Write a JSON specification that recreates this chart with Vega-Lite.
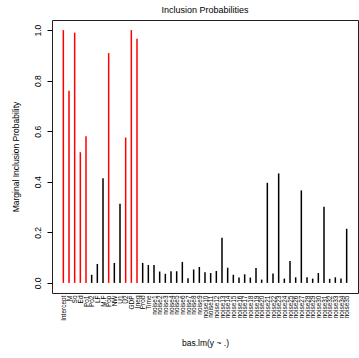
{
  "$schema": "https://vega.github.io/schema/vega-lite/v6.json",
  "width": 306,
  "height": 273,
  "autosize": {"type": "none"},
  "padding": {"left": 52, "top": 20, "right": 1, "bottom": 65},
  "background": "white",
  "config": {
    "view": {"stroke": "#222", "strokeWidth": 1},
    "font": "Liberation Sans"
  },
  "title": {
    "text": "Inclusion Probabilities",
    "fontSize": 9,
    "fontWeight": "normal",
    "font": "Liberation Sans",
    "color": "#000",
    "anchor": "middle",
    "offset": 5
  },
  "data": {
    "values": [
      {"idx": 1, "name": "Intercept", "prob": 1.0},
      {"idx": 2, "name": "M", "prob": 0.76},
      {"idx": 3, "name": "So", "prob": 0.99},
      {"idx": 4, "name": "Ed", "prob": 0.517},
      {"idx": 5, "name": "Po1", "prob": 0.58},
      {"idx": 6, "name": "Po2", "prob": 0.032},
      {"idx": 7, "name": "LF", "prob": 0.075},
      {"idx": 8, "name": "M.F", "prob": 0.414},
      {"idx": 9, "name": "Pop", "prob": 0.909},
      {"idx": 10, "name": "NW", "prob": 0.079},
      {"idx": 11, "name": "U1", "prob": 0.313},
      {"idx": 12, "name": "U2", "prob": 0.575},
      {"idx": 13, "name": "GDP", "prob": 1.0},
      {"idx": 14, "name": "Ineq", "prob": 0.966},
      {"idx": 15, "name": "Prob", "prob": 0.079},
      {"idx": 16, "name": "Time", "prob": 0.071},
      {"idx": 17, "name": "noise1", "prob": 0.071},
      {"idx": 18, "name": "noise2", "prob": 0.045},
      {"idx": 19, "name": "noise3", "prob": 0.036},
      {"idx": 20, "name": "noise4", "prob": 0.046},
      {"idx": 21, "name": "noise5", "prob": 0.046},
      {"idx": 22, "name": "noise6", "prob": 0.083},
      {"idx": 23, "name": "noise7", "prob": 0.018},
      {"idx": 24, "name": "noise8", "prob": 0.053},
      {"idx": 25, "name": "noise9", "prob": 0.063},
      {"idx": 26, "name": "noise10", "prob": 0.042},
      {"idx": 27, "name": "noise11", "prob": 0.039},
      {"idx": 28, "name": "noise12", "prob": 0.047},
      {"idx": 29, "name": "noise13", "prob": 0.179},
      {"idx": 30, "name": "noise14", "prob": 0.06},
      {"idx": 31, "name": "noise15", "prob": 0.032},
      {"idx": 32, "name": "noise16", "prob": 0.021},
      {"idx": 33, "name": "noise17", "prob": 0.034},
      {"idx": 34, "name": "noise18", "prob": 0.021},
      {"idx": 35, "name": "noise19", "prob": 0.059},
      {"idx": 36, "name": "noise20", "prob": 0.013},
      {"idx": 37, "name": "noise21", "prob": 0.396},
      {"idx": 38, "name": "noise22", "prob": 0.037},
      {"idx": 39, "name": "noise23", "prob": 0.433},
      {"idx": 40, "name": "noise24", "prob": 0.017},
      {"idx": 41, "name": "noise25", "prob": 0.087},
      {"idx": 42, "name": "noise26", "prob": 0.022},
      {"idx": 43, "name": "noise27", "prob": 0.366},
      {"idx": 44, "name": "noise28", "prob": 0.022},
      {"idx": 45, "name": "noise29", "prob": 0.017},
      {"idx": 46, "name": "noise30", "prob": 0.039},
      {"idx": 47, "name": "noise31", "prob": 0.301},
      {"idx": 48, "name": "noise32", "prob": 0.016},
      {"idx": 49, "name": "noise33", "prob": 0.022},
      {"idx": 50, "name": "noise34", "prob": 0.017},
      {"idx": 51, "name": "noise35", "prob": 0.214}
    ]
  },
  "mark": {"type": "rule", "strokeWidth": 1.5},
  "encoding": {
    "x": {
      "field": "idx",
      "type": "quantitative",
      "scale": {"domain": [-1, 53], "nice": false, "zero": false},
      "axis": {
        "title": "bas.lm(y ~ .)",
        "titleFontSize": 8.5,
        "titleFontWeight": "normal",
        "titleFont": "Liberation Sans",
        "titleColor": "#000",
        "titleY": 49,
        "titleBaseline": "middle",
        "values": [1,2,3,4,5,6,7,8,9,10,11,12,13,14,15,16,17,18,19,20,21,22,23,24,25,26,27,28,29,30,31,32,33,34,35,36,37,38,39,40,41,42,43,44,45,46,47,48,49,50,51],
        "labelExpr": "['Intercept','M','So','Ed','Po1','Po2','LF','M.F','Pop','NW','U1','U2','GDP','Ineq','Prob','Time','noise1','noise2','noise3','noise4','noise5','noise6','noise7','noise8','noise9','noise10','noise11','noise12','noise13','noise14','noise15','noise16','noise17','noise18','noise19','noise20','noise21','noise22','noise23','noise24','noise25','noise26','noise27','noise28','noise29','noise30','noise31','noise32','noise33','noise34','noise35'][datum.value - 1]",
        "labelAngle": 270,
        "labelAlign": "right",
        "labelBaseline": "middle",
        "labelFontSize": 6.5,
        "labelFont": "Liberation Sans",
        "labelColor": "#000",
        "labelPadding": 2,
        "labelOverlap": false,
        "labelBound": false,
        "labelFlush": false,
        "ticks": false,
        "domain": false,
        "grid": false
      }
    },
    "y": {
      "field": "prob",
      "type": "quantitative",
      "scale": {"domain": [-0.04, 1.04], "nice": false, "zero": false},
      "axis": {
        "title": "Marginal Inclusion Probability",
        "titleFontSize": 8.5,
        "titleFontWeight": "normal",
        "titleFont": "Liberation Sans",
        "titleColor": "#000",
        "titleAngle": 270,
        "titleX": -37,
        "titleY": 136.5,
        "titleAlign": "center",
        "titleBaseline": "middle",
        "values": [0, 0.2, 0.4, 0.6, 0.8, 1.0],
        "format": ".1f",
        "labelAngle": 270,
        "labelAlign": "center",
        "labelBaseline": "bottom",
        "labelFontSize": 8.5,
        "labelFont": "Liberation Sans",
        "labelColor": "#000",
        "labelPadding": 5,
        "tickSize": 5,
        "tickColor": "#000",
        "domain": false,
        "grid": false
      }
    },
    "y2": {"datum": 0},
    "color": {
      "condition": {"test": "datum.prob >= 0.5", "value": "#ff0000"},
      "value": "#000000"
    }
  }
}
